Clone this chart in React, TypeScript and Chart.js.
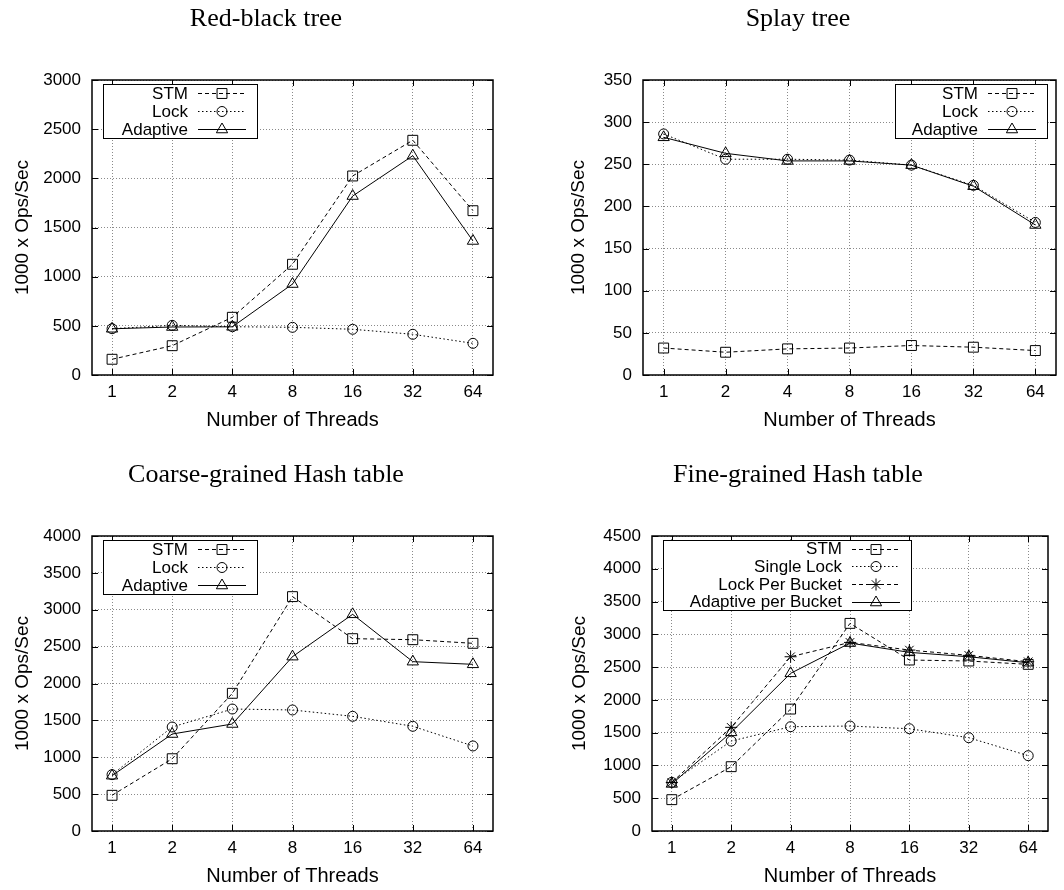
import React, { useEffect, useRef } from 'react';
import { Chart, registerables } from 'chart.js';
import { drawPoint } from 'chart.js/helpers';

Chart.register(...registerables);

// ---------- data ----------
const THREADS = ['1', '2', '4', '8', '16', '32', '64'];

const RB_STM = [160, 298, 587, 1126, 2024, 2387, 1671];
const RB_LOCK = [471, 505, 491, 485, 465, 414, 322];
const RB_ADAPTIVE = [470, 488, 490, 925, 1820, 2230, 1363];

const SPLAY_STM = [32, 27, 31, 32, 35, 33, 29];
const SPLAY_LOCK = [286, 256, 256, 255, 249, 225, 181];
const SPLAY_ADAPTIVE = [282, 263, 254, 254, 249, 224, 178];

const CHT_STM = [484, 980, 1867, 3178, 2608, 2594, 2545];
const CHT_LOCK = [764, 1410, 1654, 1641, 1555, 1420, 1153];
const CHT_ADAPTIVE = [750, 1315, 1451, 2364, 2938, 2296, 2260];

const FHT_STM = [478, 981, 1860, 3167, 2608, 2593, 2542];
const FHT_SINGLE_LOCK = [742, 1372, 1591, 1601, 1560, 1423, 1149];
const FHT_LOCK_PER_BUCKET = [740, 1581, 2658, 2877, 2760, 2679, 2582];
const FHT_ADAPTIVE_PER_BUCKET = [718, 1505, 2405, 2867, 2725, 2658, 2567];

const TITLES = ['Red-black tree', 'Splay tree', 'Coarse-grained Hash table', 'Fine-grained Hash table'];
const X_TITLE = 'Number of Threads';
const Y_TITLE = '1000 x Ops/Sec';

// ---------- styles ----------
type Sty = { dash: number[]; point: string; radius: number };
const DASHED: Sty = { dash: [4, 3], point: 'rect', radius: 7 };
const DOTTED: Sty = { dash: [1.5, 2.5], point: 'circle', radius: 5 };
const SOLID: Sty = { dash: [], point: 'triangle', radius: 6.5 };
const STAR: Sty = { dash: [4, 3], point: 'star', radius: 6 };

type Series = { label: string; data: number[]; sty: Sty };

type PanelCfg = {
  title: string;
  series: Series[];
  yMax: number;
  yStep: number;
  left: number;
  top: number;
  plotLeft: number;
  rightMargin: number;
  yTitlePad: number;
  legend: { side: 'left' | 'right'; offset: number; width: number; textRight: number; rowH: number };
};

const W = 532;
const H = 434;

const PANELS: PanelCfg[] = [
  {
    title: TITLES[0],
    series: [
      { label: 'STM', data: RB_STM, sty: DASHED },
      { label: 'Lock', data: RB_LOCK, sty: DOTTED },
      { label: 'Adaptive', data: RB_ADAPTIVE, sty: SOLID },
    ],
    yMax: 3000, yStep: 500, left: 0, top: 0, plotLeft: 92, rightMargin: 39, yTitlePad: 11,
    legend: { side: 'left', offset: 11, width: 154, textRight: 85, rowH: 18 },
  },
  {
    title: TITLES[1],
    series: [
      { label: 'STM', data: SPLAY_STM, sty: DASHED },
      { label: 'Lock', data: SPLAY_LOCK, sty: DOTTED },
      { label: 'Adaptive', data: SPLAY_ADAPTIVE, sty: SOLID },
    ],
    yMax: 350, yStep: 50, left: 532, top: 0, plotLeft: 111, rightMargin: 6, yTitlePad: 35,
    legend: { side: 'right', offset: 9, width: 152, textRight: 83, rowH: 18 },
  },
  {
    title: TITLES[2],
    series: [
      { label: 'STM', data: CHT_STM, sty: DASHED },
      { label: 'Lock', data: CHT_LOCK, sty: DOTTED },
      { label: 'Adaptive', data: CHT_ADAPTIVE, sty: SOLID },
    ],
    yMax: 4000, yStep: 500, left: 0, top: 456, plotLeft: 92, rightMargin: 39, yTitlePad: 11,
    legend: { side: 'left', offset: 11, width: 154, textRight: 85, rowH: 18 },
  },
  {
    title: TITLES[3],
    series: [
      { label: 'STM', data: FHT_STM, sty: DASHED },
      { label: 'Single Lock', data: FHT_SINGLE_LOCK, sty: DOTTED },
      { label: 'Lock Per Bucket', data: FHT_LOCK_PER_BUCKET, sty: STAR },
      { label: 'Adaptive per Bucket', data: FHT_ADAPTIVE_PER_BUCKET, sty: SOLID },
    ],
    yMax: 4500, yStep: 500, left: 532, top: 456, plotLeft: 120, rightMargin: 16, yTitlePad: 36,
    legend: { side: 'left', offset: 11, width: 248, textRight: 179, rowH: 17.6 },
  },
];

const SANS = 'Liberation Sans';

function makeFramePlugin() {
  return {
    id: 'gnuFrame',
    beforeDatasetsDraw(chart: any) {
      const { ctx, chartArea: a, scales } = chart;
      ctx.save();
      ctx.strokeStyle = '#000';
      ctx.setLineDash([]);
      ctx.lineWidth = 1;
      const tl = 6;
      ctx.beginPath();
      for (const t of scales.y.ticks) {
        const py = Math.round(scales.y.getPixelForValue(t.value)) + 0.5;
        ctx.moveTo(a.left, py); ctx.lineTo(a.left + tl, py);
        ctx.moveTo(a.right, py); ctx.lineTo(a.right - tl, py);
      }
      for (const t of scales.x.ticks) {
        const px = Math.round(scales.x.getPixelForValue(t.value)) + 0.5;
        ctx.moveTo(px, a.bottom); ctx.lineTo(px, a.bottom - tl);
        ctx.moveTo(px, a.top); ctx.lineTo(px, a.top + tl);
      }
      ctx.stroke();
      ctx.lineWidth = 1.5;
      ctx.strokeRect(a.left, a.top, a.right - a.left, a.bottom - a.top);
      ctx.restore();
    },
  };
}

function makeLegendPlugin(cfg: PanelCfg) {
  return {
    id: 'gnuLegend',
    afterDraw(chart: any) {
      const { ctx, chartArea: a } = chart;
      const L = cfg.legend;
      const bx = L.side === 'left' ? a.left + L.offset : a.right - L.offset - L.width;
      const by = a.top + 4;
      const n = chart.data.datasets.length;
      const bh = n * L.rowH;
      ctx.save();
      ctx.fillStyle = '#fff';
      ctx.fillRect(bx, by, L.width, bh);
      ctx.strokeStyle = '#000';
      ctx.lineWidth = 1;
      ctx.setLineDash([]);
      ctx.strokeRect(Math.round(bx) + 0.5, Math.round(by) + 0.5, L.width, Math.round(bh));
      ctx.font = `17px "${SANS}"`;
      ctx.textAlign = 'right';
      ctx.textBaseline = 'middle';
      const tx = bx + L.textRight;
      const s1 = tx + 10;
      const s2 = tx + 58;
      chart.data.datasets.forEach((ds: any, i: number) => {
        const cy = by + L.rowH * (i + 0.5);
        ctx.fillStyle = '#000';
        ctx.fillText(ds.label, tx, cy + 1);
        const ly = Math.round(cy) + 0.5;
        ctx.strokeStyle = '#000';
        ctx.lineWidth = 1;
        ctx.setLineDash(ds.borderDash || []);
        ctx.beginPath();
        ctx.moveTo(s1, ly);
        ctx.lineTo(s2, ly);
        ctx.stroke();
        ctx.setLineDash([]);
        ctx.fillStyle = 'rgba(0,0,0,0)';
        drawPoint(ctx, { pointStyle: ds.pointStyle, rotation: 0, radius: ds.pointRadius, borderWidth: 1 } as any, (s1 + s2) / 2, ly);
      });
      ctx.restore();
    },
  };
}

function Panel({ cfg }: { cfg: PanelCfg }) {
  const ref = useRef<HTMLCanvasElement | null>(null);
  useEffect(() => {
    if (!ref.current) return;
    Chart.defaults.font.family = SANS;
    Chart.defaults.color = '#000';
    const datasets = cfg.series.map((s) => ({
      label: s.label,
      data: s.data.map((v, i) => ({ x: i, y: v })),
      borderColor: '#000',
      backgroundColor: 'rgba(0,0,0,0)',
      borderWidth: 1,
      borderDash: s.sty.dash,
      pointStyle: s.sty.point,
      pointRadius: s.sty.radius,
      pointBorderWidth: 1,
      pointBorderColor: '#000',
      pointBackgroundColor: 'rgba(0,0,0,0)',
      tension: 0,
      fill: false,
    }));
    const chart = new Chart(ref.current, {
      type: 'line',
      data: { datasets },
      plugins: [makeFramePlugin(), makeLegendPlugin(cfg)],
      options: {
        animation: false,
        responsive: false,
        maintainAspectRatio: false,
        devicePixelRatio: 1,
        layout: { padding: 0 },
        plugins: {
          legend: { display: false },
          tooltip: { enabled: false },
          title: {
            display: true,
            text: cfg.title,
            color: '#000',
            font: { family: 'Liberation Serif', size: 26, weight: 'normal' },
            padding: { top: 4, bottom: 44.8 },
          },
        },
        scales: {
          x: {
            type: 'linear',
            min: -1 / 3,
            max: THREADS.length - 1 + 1 / 3,
            afterBuildTicks: (s: any) => {
              s.ticks = THREADS.map((_, i) => ({ value: i }));
            },
            afterFit: (s: any) => {
              s.height = 59;
            },
            ticks: {
              callback: (v: any) => THREADS[Math.round(Number(v))] ?? '',
              font: { size: 17 },
              color: '#000',
              padding: 7,
              maxRotation: 0,
              autoSkip: false,
            },
            grid: { color: '#8a8a8a', lineWidth: 1, drawTicks: false },
            border: { display: false, dash: [1, 2] },
            title: {
              display: true,
              text: X_TITLE,
              color: '#000',
              font: { size: 20 },
              padding: { top: 0, bottom: 2 },
            },
          },
          y: {
            type: 'linear',
            min: 0,
            max: cfg.yMax,
            afterFit: (s: any) => {
              s.width = cfg.plotLeft;
            },
            ticks: {
              stepSize: cfg.yStep,
              callback: (v: any) => String(v),
              font: { size: 17 },
              color: '#000',
              padding: 11,
            },
            grid: { color: '#8a8a8a', lineWidth: 1, drawTicks: false },
            border: { display: false, dash: [1, 2] },
            title: {
              display: true,
              text: Y_TITLE,
              color: '#000',
              font: { size: 19 },
              padding: { top: cfg.yTitlePad, bottom: 0 },
            },
          },
          y2: {
            type: 'linear',
            position: 'right',
            display: true,
            afterFit: (s: any) => {
              s.width = cfg.rightMargin;
            },
            ticks: { display: false },
            grid: { display: false, drawTicks: false },
            border: { display: false },
            title: { display: false },
          },
        },
      } as any,
    });
    return () => chart.destroy();
  }, [cfg]);
  return (
    <canvas
      ref={ref}
      width={W}
      height={H}
      style={{ position: 'absolute', left: cfg.left, top: cfg.top, width: W, height: H, display: 'block' }}
    />
  );
}

export default function App() {
  return (
    <div style={{ position: 'absolute', left: 0, top: 0, width: 1064, height: 890, background: '#fff' }}>
      {PANELS.map((p, i) => (
        <Panel key={i} cfg={p} />
      ))}
    </div>
  );
}
